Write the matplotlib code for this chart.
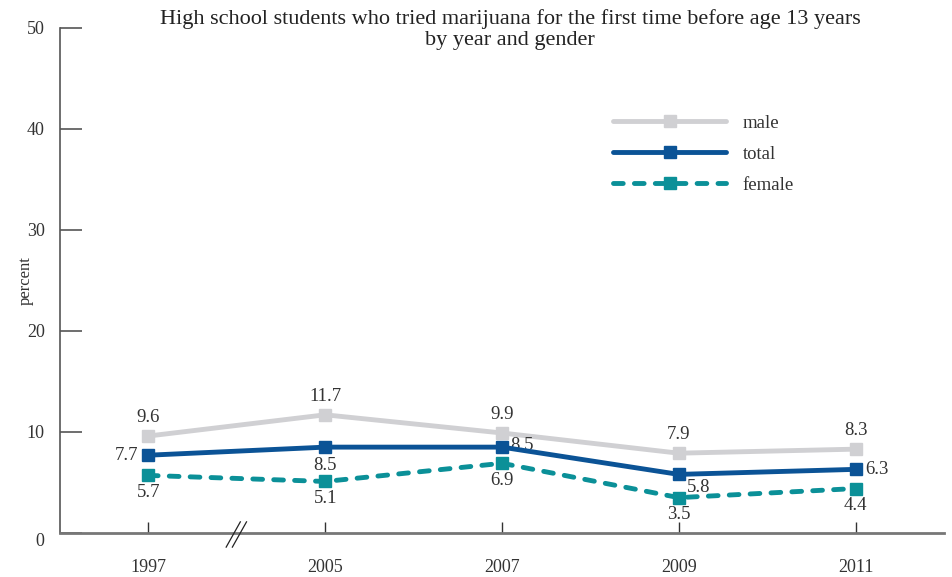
import matplotlib
matplotlib.use("Agg")
import matplotlib.pyplot as plt

# data
years = ["1997", "2005", "2007", "2009", "2011"]
male = [9.6, 11.7, 9.9, 7.9, 8.3]
total = [7.7, 8.5, 8.5, 5.8, 6.3]
female = [5.7, 5.1, 6.9, 3.5, 4.4]
y_ticks = [0, 10, 20, 30, 40, 50]

c_male = "#d0d0d3"
c_total = "#0b5396"
c_female = "#0b9098"
c_text = "#333333"

plt.rcParams["font.family"] = ["Liberation Serif", "DejaVu Serif"]

fig = plt.figure(figsize=(9.52, 5.77), dpi=100)
ax = fig.add_axes([0.063, 0.0763, 0.9286, 0.8752])

x = list(range(len(years)))
ax.plot(x, male, color=c_male, lw=3.5, marker="s", ms=8.5, solid_capstyle="round", label="male", zorder=3)
ax.plot(x, total, color=c_total, lw=3.5, marker="s", ms=8.5, solid_capstyle="round", label="total", zorder=4)
ax.plot(x, female, color=c_female, lw=3.5, marker="s", ms=8.5, ls=(0, (2.0, 2.3)),
        dash_capstyle="round", label="female", zorder=3)

ax.set_xlim(-0.5, 4.5)
ax.set_ylim(0, 50)

# value labels
fs = 13.5
for i, v in enumerate(male):
    ax.annotate(f"{v}", (i, v), xytext=(0, 7), textcoords="offset points",
                ha="center", va="bottom", fontsize=fs, color=c_text)
for i, v in enumerate(female):
    ax.annotate(f"{v}", (i, v), xytext=(0, -6), textcoords="offset points",
                ha="center", va="top", fontsize=fs, color=c_text)
total_offsets = [(-7, 0, "right", "center"), (0, -7, "center", "top"),
                 (6, 1, "left", "center"), (6, -3, "left", "top"), (7, 0, "left", "center")]
for i, v in enumerate(total):
    dx, dy, ha, va = total_offsets[i]
    ax.annotate(f"{v}", (i, v), xytext=(dx, dy), textcoords="offset points",
                ha=ha, va=va, fontsize=fs, color=c_text)

# axes styling
for s in ["top", "right"]:
    ax.spines[s].set_visible(False)
ax.spines["left"].set_color("#555555")
ax.spines["bottom"].set_color("#777777")
ax.spines["left"].set_linewidth(1.2)
ax.spines["bottom"].set_linewidth(2)

ax.set_yticks(y_ticks)
ax.set_yticklabels([str(t) for t in y_ticks])
ax.tick_params(axis="y", direction="in", length=16, width=1.2, color="#555555",
               labelsize=13, labelcolor=c_text, pad=11)
# the 0 label sits a little below the axis line
ax.get_yticklabels()[0].set_va("top")
ax.set_xticks(x)
ax.set_xticklabels(years)
ax.tick_params(axis="x", direction="in", length=8, width=1, color="#333333",
               labelsize=13, labelcolor=c_text, pad=19)

# axis break marks between 1997 and 2005
for off in (-0.02, 0.015):
    ax.plot([0.46 + off, 0.54 + off], [-1.4, 1.1], color="#222222", lw=0.9, clip_on=False, zorder=5)

ax.set_ylabel("percent", fontsize=12, color=c_text)
ax.yaxis.set_label_coords(-0.03, 0.5)

fig.text(0.536, 0.985,
         "High school students who tried marijuana for the first time before age 13 years\nby year and gender",
         ha="center", va="top", fontsize=16, color="#222222", linespacing=1.2)

leg = ax.legend(loc="upper left", bbox_to_anchor=(0.607, 0.862), frameon=False, fontsize=13.5,
                handlelength=6.0, labelspacing=0.75, handletextpad=0.9)
for t in leg.get_texts():
    t.set_color(c_text)

fig.savefig("out.png", dpi=100)
